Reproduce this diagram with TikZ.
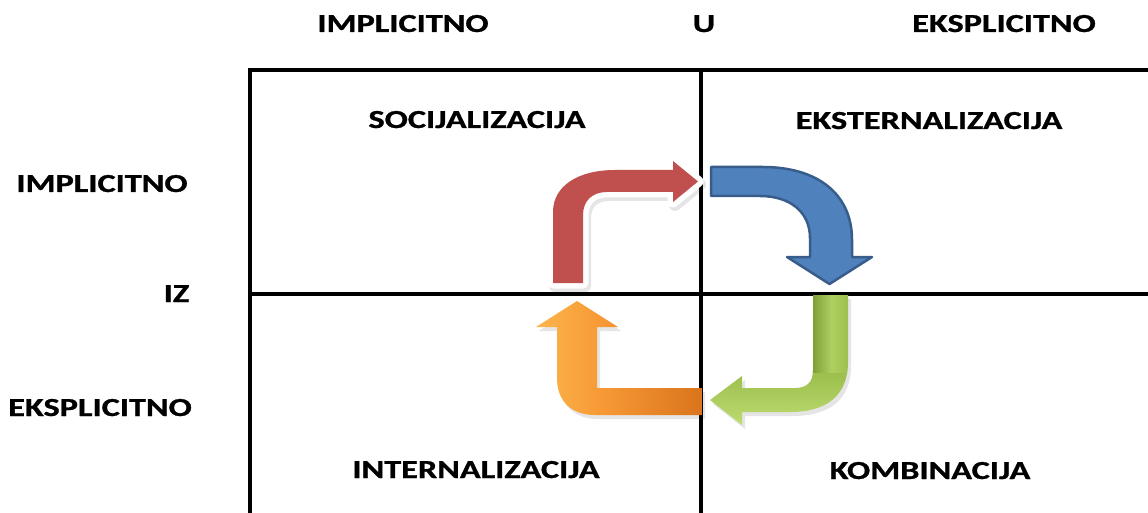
\documentclass[tikz,border=0pt]{standalone}
\usepackage{fontspec}
\setmainfont{Carlito}[BoldFeatures={FakeBold=0.8}]
\definecolor{gridc}{HTML}{000000}
\definecolor{redf}{HTML}{C0504D}
\definecolor{bluef}{HTML}{4F81BD}
\definecolor{blued}{HTML}{385D8A}
\definecolor{greenl}{HTML}{C6E37A}
\definecolor{greenm}{HTML}{9BBE4C}
\definecolor{greend}{HTML}{76982F}
\definecolor{orangel}{HTML}{FFC458}
\definecolor{orangem}{HTML}{F79A36}
\definecolor{oranged}{HTML}{D9731C}
\begin{document}
\begin{tikzpicture}[x=1pt,y=-1pt,
  lbl/.style={font=\fontsize{26}{30}\selectfont\bfseries, inner sep=0pt, anchor=base},
  gridline/.style={line width=4pt, draw=gridc}]
\useasboundingbox (0,0) rectangle (1148,513);
\fill[white] (0,0) rectangle (1148,513);

% grid
\coordinate (tl) at (250,70);
\coordinate (tr) at (1148,70);
\coordinate (bl) at (250,513);
\coordinate (mt) at (701,70);
\coordinate (mb) at (701,513);
\coordinate (ml) at (250,293.5);
\coordinate (mr) at (1148,293.5);
\draw[gridline] (bl) -- (tl) -- (tr);
\draw[gridline] (mt) -- (mb);
\draw[gridline] (ml) -- (mr);

% labels
\node[lbl] (hImp) at (403,32) {\scalebox{1.32}[1]{IMPLICITNO}};
\node[lbl] (hU) at (704,32) {\scalebox{1.32}[1]{U}};
\node[lbl] (hEks) at (1004,32) {\scalebox{1.32}[1]{EKSPLICITNO}};
\node[lbl] (vImp) at (102,192) {\scalebox{1.32}[1]{IMPLICITNO}};
\node[lbl] (vIz) at (176.5,302) {\scalebox{1.32}[1]{IZ}};
\node[lbl] (vEks) at (100,416) {\scalebox{1.32}[1]{EKSPLICITNO}};
\node[lbl] (qSoc) at (477,128) {\scalebox{1.32}[1]{SOCIJALIZACIJA}};
\node[lbl] (qEkst) at (929,129) {\scalebox{1.32}[1]{EKSTERNALIZACIJA}};
\node[lbl] (qInt) at (476,478) {\scalebox{1.32}[1]{INTERNALIZACIJA}};
\node[lbl] (qKom) at (930,479) {\scalebox{1.32}[1]{KOMBINACIJA}};

% red arrow (socijalizacija -> eksternalizacija)
\def\redpath{(553,283) -- (553,212) .. controls (553,186) and (578,170) .. (615,170)
  -- (673,170) -- (673,161) -- (698,181.5) -- (673,202) -- (673,192)
  -- (607,192) .. controls (592,192) and (583,201) .. (583,215) -- (583,283) -- cycle}
\draw[black, opacity=0.10, shift={(2,3)}, line width=12pt, line join=round] \redpath;
\draw[white, line width=11pt, line join=round] \redpath;
\fill[redf] \redpath;

% blue arrow
\def\bluepath{(711,167) -- (763,167) .. controls (815,167) and (852,192) .. (852,240)
  -- (852,257) -- (872,257) -- (829.5,284) -- (787,257) -- (810,257) -- (810,238)
  .. controls (810,212) and (790,196) .. (760,196) -- (711,196) -- cycle}
\fill[bluef, draw=blued, line width=2.5pt, line join=round] \bluepath;

% green arrow
\def\greenpath{(813,295) -- (848,295) -- (848,362) .. controls (848,396) and (826,412) .. (790,412)
  -- (742,412) -- (742,425) -- (710,400) -- (742,376) -- (742,388) -- (795,388)
  .. controls (807,388) and (813,382) .. (813,370) -- cycle}
\fill[black, opacity=0.10, shift={(3,4)}] \greenpath;
\begin{scope}
  \clip \greenpath;
  \shade[top color=greenm, bottom color=greenl!85!greenm] (700,372) rectangle (860,428);
  \shade[left color=greend!85!greenm, right color=greenm, middle color=greenm!55!greenl]
    (812,290) rectangle (851,372);
\end{scope}

% orange arrow
\def\orangepath{(702,388) -- (702,415) -- (595,415) .. controls (571,415) and (557,401) .. (557,378)
  -- (557,327) -- (536,327) -- (577,301) -- (618,327) -- (597,327) -- (597,388) -- cycle}
\fill[black, opacity=0.10, shift={(3,4)}] \orangepath;
\begin{scope}
  \clip \orangepath;
  \shade[left color=orangel!70!orangem, right color=orangem] (530,295) rectangle (600,420);
  \shade[left color=orangem, right color=oranged] (600,295) rectangle (705,420);
\end{scope}
\end{tikzpicture}
\end{document}
